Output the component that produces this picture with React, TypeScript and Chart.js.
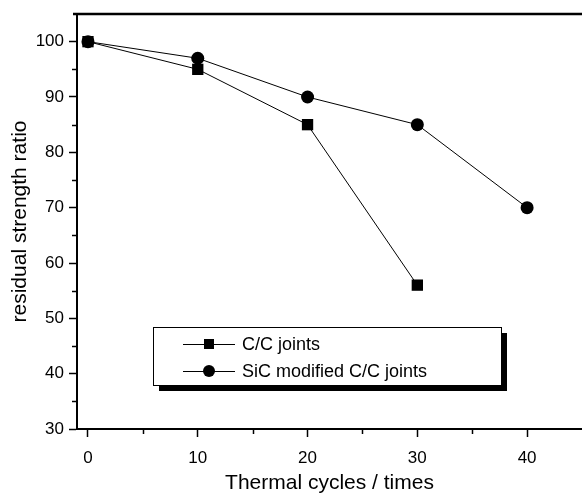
import React, { useEffect, useRef } from 'react';
import { Chart, registerables } from 'chart.js';

Chart.register(...registerables);

const cycles = [0, 10, 20, 30, 40];
const ccJoints = [100, 95, 85, 56];
const sicJoints = [100, 97, 90, 85, 70];
const xTickValues = [0, 10, 20, 30, 40];
const xMinorValues = [5, 15, 25, 35];
const yTickValues = [30, 40, 50, 60, 70, 80, 90, 100];
const yMinorValues = [35, 45, 55, 65, 75, 85, 95];
const seriesLabels = ['C/C joints', 'SiC modified C/C joints'];
const xTitle = 'Thermal cycles / times';
const yTitle = 'residual strength ratio';

const FONT = '"Liberation Sans", Arial, Helvetica, sans-serif';

const decorPlugin = {
  id: 'decor',
  afterDraw(chart: any) {
    const { ctx, chartArea: ca, scales } = chart;
    const x = scales.x;
    const y = scales.y;
    ctx.save();
    ctx.strokeStyle = '#000';
    // top frame line
    ctx.lineWidth = 2.5;
    ctx.beginPath();
    ctx.moveTo(ca.left - 4, ca.top);
    ctx.lineTo(ca.right, ca.top);
    ctx.stroke();
    // minor ticks
    ctx.lineWidth = 1.5;
    xMinorValues.forEach((v) => {
      const px = Math.round(x.getPixelForValue(v)) + 0.5;
      ctx.beginPath();
      ctx.moveTo(px, ca.bottom);
      ctx.lineTo(px, ca.bottom + 5);
      ctx.stroke();
    });
    yMinorValues.forEach((v) => {
      const py = Math.round(y.getPixelForValue(v)) + 0.5;
      ctx.beginPath();
      ctx.moveTo(ca.left - 5, py);
      ctx.lineTo(ca.left, py);
      ctx.stroke();
    });

    // legend box with shadow
    const bx = 153, by = 327, bw = 348, bh = 58;
    ctx.fillStyle = '#000';
    ctx.fillRect(bx + 6, by + 6, bw, bh);
    ctx.fillStyle = '#fff';
    ctx.fillRect(bx, by, bw, bh);
    ctx.lineWidth = 1;
    ctx.strokeStyle = '#000';
    ctx.strokeRect(bx + 0.5, by + 0.5, bw, bh);

    const rows = [by + 17, by + 44];
    chart.data.datasets.forEach((ds: any, i: number) => {
      const ry = rows[i];
      ctx.strokeStyle = '#000';
      ctx.lineWidth = 1;
      ctx.beginPath();
      ctx.moveTo(183, ry + 0.5);
      ctx.lineTo(235, ry + 0.5);
      ctx.stroke();
      ctx.fillStyle = '#000';
      if (ds.pointStyle === 'rect') {
        ctx.fillRect(209 - 5, ry - 5, 10, 10);
      } else {
        ctx.beginPath();
        ctx.arc(209, ry, 6, 0, Math.PI * 2);
        ctx.fill();
      }
      ctx.font = `18px ${FONT}`;
      ctx.textAlign = 'left';
      ctx.textBaseline = 'middle';
      ctx.fillText(ds.label, 242, ry + 1);
    });
    ctx.restore();
  },
};

export default function App() {
  const ref = useRef<HTMLCanvasElement>(null);

  useEffect(() => {
    const canvas = ref.current;
    if (!canvas) return;
    const chart = new Chart(canvas, {
      type: 'line',
      data: {
        datasets: [
          {
            label: seriesLabels[0],
            data: ccJoints.map((v, i) => ({ x: cycles[i], y: v })),
            borderColor: '#000',
            borderWidth: 1,
            backgroundColor: '#000',
            pointStyle: 'rect',
            pointRadius: 8,
            pointBorderWidth: 0,
            pointBackgroundColor: '#000',
            tension: 0,
            fill: false,
            clip: false as any,
          },
          {
            label: seriesLabels[1],
            data: sicJoints.map((v, i) => ({ x: cycles[i], y: v })),
            borderColor: '#000',
            borderWidth: 1,
            backgroundColor: '#000',
            pointStyle: 'circle',
            pointRadius: 6.5,
            pointBorderWidth: 0,
            pointBackgroundColor: '#000',
            tension: 0,
            fill: false,
            clip: false as any,
          },
        ],
      },
      options: {
        animation: false,
        responsive: false,
        layout: { autoPadding: false, padding: { top: 14, right: 0, left: 0, bottom: 0 } },
        plugins: {
          legend: { display: false },
          tooltip: { enabled: false },
        },
        scales: {
          x: {
            type: 'linear',
            min: -1,
            max: 45,
            afterFit: (s: any) => {
              s.height = 65;
              s.paddingRight = 0;
              s.paddingLeft = 0;
            },
            afterBuildTicks: (s: any) => {
              s.ticks = xTickValues.map((v) => ({ value: v }));
            },
            grid: {
              drawOnChartArea: false,
              drawTicks: true,
              tickLength: 8,
              tickWidth: 1.5,
              tickColor: '#000',
            },
            border: { display: true, color: '#000', width: 2 },
            ticks: {
              color: '#000',
              font: { family: FONT, size: 17 },
              padding: 11,
              maxRotation: 0,
              autoSkip: false,
              callback: (v: any) => String(v),
            },
            title: {
              display: true,
              text: xTitle,
              color: '#000',
              font: { family: FONT, size: 21, lineHeight: 1 },
              padding: { top: 0, bottom: 0 },
            },
          },
          y: {
            type: 'linear',
            min: 30,
            max: 105,
            afterFit: (s: any) => {
              s.width = 77;
              s.paddingTop = 0;
              s.paddingBottom = 0;
            },
            afterBuildTicks: (s: any) => {
              s.ticks = yTickValues.map((v) => ({ value: v }));
            },
            grid: {
              drawOnChartArea: false,
              drawTicks: true,
              tickLength: 8,
              tickWidth: 1.5,
              tickColor: '#000',
            },
            border: { display: true, color: '#000', width: 2 },
            ticks: {
              color: '#000',
              font: { family: FONT, size: 17 },
              padding: 5,
              autoSkip: false,
              callback: (v: any) => String(v),
            },
            title: {
              display: true,
              text: yTitle,
              color: '#000',
              font: { family: FONT, size: 21, lineHeight: 1 },
              padding: { top: 10, bottom: 0 },
            },
          },
        },
      },
      plugins: [decorPlugin],
    });
    return () => chart.destroy();
  }, []);

  return (
    <div style={{ position: 'fixed', left: 0, top: 0, width: 582, height: 494, background: '#fff' }}>
      <canvas ref={ref} width={582} height={494} style={{ display: 'block' }} />
    </div>
  );
}
